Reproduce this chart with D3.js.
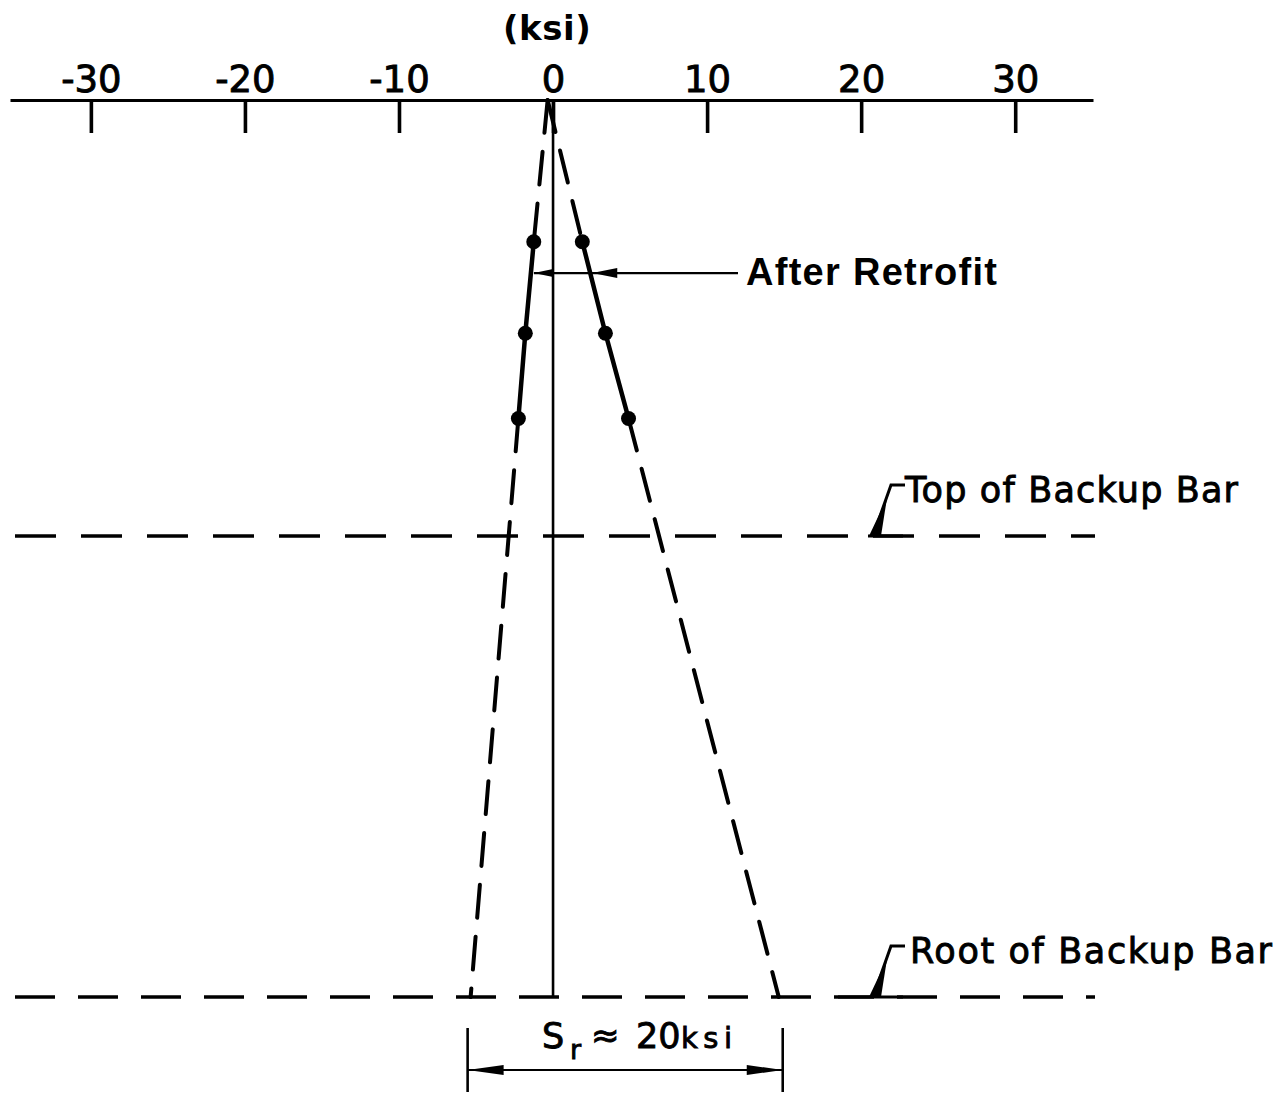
<!DOCTYPE html>
<html>
<head>
<meta charset="utf-8">
<script src="https://cdn.jsdelivr.net/npm/d3@7"></script>
<style>
  body { margin: 0; background: #fff; }
  svg { display: block; }
</style>
</head>
<body>
<svg id="chart" width="1284" height="1094"></svg>
<script>
// Stress scale (ksi) along the top axis
const stressTicks = [-30, -20, -10, 0, 10, 20, 30];
const stressDomain = [-35.25, 35.05];
const unitLabel = "(ksi)";

// Relative depth through the detail: 0 = surface at the axis, 1 = root of backup bar
const measuredDepth = [0.158, 0.260, 0.355];
const leftStress = [-1.25, -1.8, -2.25];   // compression side, after retrofit
const rightStress = [1.9, 3.4, 4.9];       // tension side, after retrofit

// Extrapolated stress envelope (dashed)
const envelopeTopStress = -0.35;
const envelopeRootLeft = -5.35;
const envelopeRootRight = 14.65;           // range = 20 ksi

// Reference levels
const levelNames = ["Top of Backup Bar", "Root of Backup Bar"];
const levelDepth = [0.486, 1.0];

const retrofitLabel = "After Retrofit";
const retrofitLeaderDepth = 0.193;
const rangeValue = envelopeRootRight - envelopeRootLeft;

const svg = d3.select("#chart");
const x = d3.scaleLinear().domain(stressDomain).range([10, 1093]);
const y = d3.scaleLinear().domain([0, 1]).range([100, 997]);

const FONT = "'DejaVu Sans', sans-serif";
// lettering is drawn slightly heavier than the regular face
const ink = sel => sel.attr("fill", "#000").attr("stroke", "#000").attr("stroke-width", 0.9);

// ---- level lines (dashed horizontals)
const levelLen = [[41, 25], [40, 23]];
levelDepth.forEach((d, i) => {
  svg.append("line")
    .attr("x1", 15).attr("x2", 1095)
    .attr("y1", y(d)).attr("y2", y(d))
    .attr("stroke", "#000").attr("stroke-width", 3.6)
    .attr("stroke-dasharray", levelLen[i].join(","));
});

// ---- centre line at zero stress
svg.append("line")
  .attr("x1", x(0)).attr("x2", x(0))
  .attr("y1", y(0)).attr("y2", y(1))
  .attr("stroke", "#000").attr("stroke-width", 2.6);

// ---- top axis
const axis = d3.axisTop(x)
  .tickValues(stressTicks)
  .tickSizeInner(-33)
  .tickSizeOuter(0)
  .tickPadding(8)
  .tickFormat(d => String(d));

const gAxis = svg.append("g")
  .attr("transform", `translate(0,${y(0)})`)
  .call(axis);
gAxis.select(".domain").attr("stroke-width", 3.2);
gAxis.selectAll(".tick line").attr("stroke-width", 3.6);
gAxis.selectAll(".tick text")
  .attr("font-family", FONT)
  .attr("font-size", 37)
  .call(ink);

svg.append("text")
  .attr("x", x(-0.4)).attr("y", 40)
  .attr("text-anchor", "middle")
  .attr("font-family", FONT)
  .attr("font-weight", "bold")
  .attr("font-size", 34)
  .attr("textLength", 88)
  .attr("lengthAdjust", "spacing")
  .attr("fill", "#000")
  .text(unitLabel);

// ---- dashed envelope: from the surface to the first reading, and from the last reading to the root
const line = d3.line().x(p => x(p[1])).y(p => y(p[0]));
const last = measuredDepth.length - 1;
const envelopeSegments = [
  [[0, envelopeTopStress], [measuredDepth[0], leftStress[0]]],
  [[measuredDepth[last], leftStress[last]], [1, envelopeRootLeft]],
  [[0, envelopeTopStress], [measuredDepth[0], rightStress[0]]],
  [[measuredDepth[last], rightStress[last]], [1, envelopeRootRight]]
];
svg.selectAll("path.envelope")
  .data(envelopeSegments)
  .join("path")
  .attr("class", "envelope")
  .attr("d", line)
  .attr("fill", "none")
  .attr("stroke", "#000")
  .attr("stroke-width", 4)
  .attr("stroke-linecap", "round")
  .attr("stroke-dasharray", "33,19");

// ---- measured profiles after retrofit
[leftStress, rightStress].forEach(series => {
  const pts = measuredDepth.map((d, i) => [d, series[i]]);
  svg.append("path")
    .attr("d", line(pts))
    .attr("fill", "none")
    .attr("stroke", "#000")
    .attr("stroke-width", 4.5);
  svg.selectAll(null)
    .data(pts)
    .join("circle")
    .attr("cx", p => x(p[1]))
    .attr("cy", p => y(p[0]))
    .attr("r", 7.5)
    .attr("fill", "#000");
});

// ---- "After Retrofit" leader with arrowheads on both profiles
const leftAt = d3.scaleLinear().domain(measuredDepth.slice(0, 2)).range(leftStress.slice(0, 2));
const rightAt = d3.scaleLinear().domain(measuredDepth.slice(0, 2)).range(rightStress.slice(0, 2));
const ly = y(retrofitLeaderDepth);
const lTip = x(leftAt(retrofitLeaderDepth)) + 3;
const rTip = x(rightAt(retrofitLeaderDepth)) + 2;
svg.append("line")
  .attr("x1", lTip).attr("x2", 738)
  .attr("y1", ly).attr("y2", ly)
  .attr("stroke", "#000").attr("stroke-width", 2.2);
svg.append("path")
  .attr("d", `M${lTip},${ly} L${x(0)},${ly - 4} L${x(0)},${ly + 4} Z`)
  .attr("fill", "#000");
svg.append("path")
  .attr("d", `M${rTip},${ly} L${rTip + 25},${ly - 5} L${rTip + 25},${ly + 5} Z`)
  .attr("fill", "#000");
svg.append("text")
  .attr("x", 746).attr("y", ly + 12)
  .attr("font-family", "'Liberation Sans', Arial, sans-serif")
  .attr("font-weight", "bold")
  .attr("font-size", 38)
  .attr("textLength", 251)
  .attr("lengthAdjust", "spacing")
  .attr("fill", "#000")
  .text(retrofitLabel);

// ---- level labels with bent leaders
const levelFoot = [868, 838];
const levelText = [[905, 333], [910, 362]];
levelDepth.forEach((d, i) => {
  const L = y(d);
  const bx = 873, tx = bx + 18, ty = L - 51;
  svg.append("path")
    .attr("d", `M${levelFoot[i]},${L} H${bx + 30} M${bx},${L} L${tx},${ty} H${tx + 14}`)
    .attr("fill", "none")
    .attr("stroke", "#000")
    .attr("stroke-width", 3);
  svg.append("path")
    .attr("d", `M${bx - 4},${L} L${bx + 8},${L} L${bx + 14},${L - 38} Z`)
    .attr("fill", "#000");
  svg.append("text")
    .attr("x", levelText[i][0]).attr("y", L - 34)
    .attr("font-family", FONT)
    .attr("font-size", 35)
    .attr("textLength", levelText[i][1])
    .attr("lengthAdjust", "spacing")
    .call(ink)
    .text(levelNames[i]);
});

// ---- stress range dimension at the root
const dimY = 1070;
const dL = x(envelopeRootLeft) - 3;
const dR = x(envelopeRootRight) + 4;
[dL, dR].forEach(xx => {
  svg.append("line")
    .attr("x1", xx).attr("x2", xx)
    .attr("y1", 1028).attr("y2", 1092)
    .attr("stroke", "#000").attr("stroke-width", 2.6);
});
svg.append("line")
  .attr("x1", dL).attr("x2", dR)
  .attr("y1", dimY).attr("y2", dimY)
  .attr("stroke", "#000").attr("stroke-width", 2);
svg.append("path")
  .attr("d", `M${dL},${dimY} L${dL + 36},${dimY - 5} L${dL + 36},${dimY + 5} Z`)
  .attr("fill", "#000");
svg.append("path")
  .attr("d", `M${dR},${dimY} L${dR - 36},${dimY - 5} L${dR - 36},${dimY + 5} Z`)
  .attr("fill", "#000");

const sr = svg.append("g").attr("font-family", FONT);
sr.append("text").attr("x", 542).attr("y", 1048).attr("font-size", 35).call(ink).text("S");
sr.append("text").attr("x", 570).attr("y", 1059).attr("font-size", 27).call(ink).text("r");
sr.append("text").attr("x", 591).attr("y", 1047).attr("font-size", 34).call(ink).text("\u2248");
sr.append("text").attr("x", 636).attr("y", 1048).attr("font-size", 35).call(ink).text(String(Math.round(rangeValue)));
sr.append("text").attr("x", 681).attr("y", 1048).attr("font-size", 29)
  .attr("textLength", 51).attr("lengthAdjust", "spacing").call(ink).text("ksi");
</script>
</body>
</html>
